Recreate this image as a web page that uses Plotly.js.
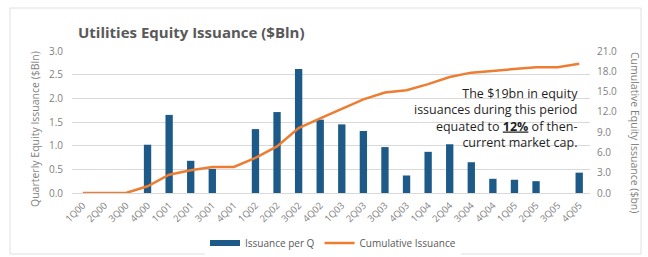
<!DOCTYPE html>
<html>
<head>
<meta charset="utf-8">
<script src="https://cdn.plot.ly/plotly-3.0.1.min.js"></script>
<style>html,body{margin:0;padding:0;background:#fff;}#chart{width:648px;height:257px;}</style>
</head>
<body>
<div id="chart"></div>
<script>
const quarters = ["1Q00","2Q00","3Q00","4Q00","1Q01","2Q01","3Q01","4Q01","1Q02","2Q02","3Q02","4Q02","1Q03","2Q03","3Q03","4Q03","1Q04","2Q04","3Q04","4Q04","1Q05","2Q05","3Q05","4Q05"];
const issuancePerQ = [0,0,0,1.02,1.65,0.68,0.51,0,1.35,1.71,2.62,1.55,1.45,1.31,0.97,0.37,0.87,1.03,0.65,0.30,0.28,0.25,0,0.43];
const cumulativeIssuance = [0,0,0,1.0,2.7,3.35,3.85,3.85,5.2,6.9,9.6,11.05,12.5,13.85,14.85,15.2,16.1,17.15,17.8,18.1,18.35,18.6,18.6,19.1];
const leftTicks = [0,0.5,1,1.5,2,2.5,3];
const rightTicks = [0,3,6,9,12,15,18,21];

const gray = "#7f7f7f";
const blue = "#1d5a87";
const orange = "#ed7d31";
const W = 648, H = 257, L = 72, R = 590, T = 51, B = 193;
const px = x => (x - L) / (R - L);
const py = y => (B - y) / (B - T);

const traces = [
  {type:"bar", name:"Issuance per Q", x:quarters, y:issuancePerQ, marker:{color:blue}, width:0.34, yaxis:"y", showlegend:false},
  {type:"scatter", mode:"lines", name:"Issuance per Q", x:[null], y:[null], line:{color:blue, width:6}, yaxis:"y", showlegend:true, hoverinfo:"skip"},
  {type:"scatter", mode:"lines", name:"Cumulative Issuance", x:quarters, y:cumulativeIssuance, line:{color:orange, width:2.5}, yaxis:"y2"}
];
const layout = {
  width:W, height:H,
  margin:{l:L, r:W-R, t:T, b:H-B, autoexpand:false},
  paper_bgcolor:"#fff", plot_bgcolor:"#fff",
  font:{family:"Open Sans, sans-serif", color:gray, size:9},
  showlegend:true,
  legend:{orientation:"h", x:px(333), xanchor:"center", y:py(243), yanchor:"middle", font:{size:10, color:"#595959"}, itemwidth:30, tracegroupgap:0},
  title:{text:"<b>Utilities Equity Issuance ($Bln)</b>", font:{size:15, color:"#595959", family:"Open Sans, sans-serif"}, x:78/W, xanchor:"left", y:1-33/H, yanchor:"middle"},
  xaxis:{type:"category", tickangle:-45, tickfont:{size:9.5, color:gray}, showgrid:false, ticks:"", showline:false, zeroline:false, automargin:false, ticklabelstandoff:4},
  yaxis:{range:[0,3], tickvals:leftTicks, ticktext:leftTicks.map(v=>v.toFixed(1)), gridcolor:"#d9d9d9", zeroline:true, zerolinecolor:"#d9d9d9", tickfont:{size:10, color:gray}, ticks:"", ticklabelstandoff:8, automargin:false},
  yaxis2:{range:[0,21], overlaying:"y", side:"right", tickvals:rightTicks, ticktext:rightTicks.map(v=>v.toFixed(1)), showgrid:false, zeroline:false, tickfont:{size:10, color:gray}, ticks:"", ticklabelstandoff:6, automargin:false},
  annotations:[
    {xref:"paper", yref:"paper", x:px(580), y:py(118), xanchor:"right", yanchor:"middle", align:"right", showarrow:false,
     text:"The $19bn in equity<br>issuances during this period<br>equated to <b><u>12%</u></b> of then-<br>current market cap.",
     font:{size:12.5, color:"#1f1f1f", family:"Open Sans, sans-serif"}},
    {xref:"paper", yref:"paper", x:px(35), y:py(129), textangle:-90, showarrow:false, xanchor:"center", yanchor:"middle",
     text:"Quarterly Equity Issuance ($Bln)", font:{size:10.5, color:gray}},
    {xref:"paper", yref:"paper", x:px(635), y:py(132), textangle:90, showarrow:false, xanchor:"center", yanchor:"middle",
     text:"Cumulative Equity Issuance ($bn)", font:{size:10.5, color:gray}}
  ],
  shapes:[{type:"rect", xref:"paper", yref:"paper", x0:px(10), x1:px(641), y0:py(254), y1:py(8), line:{color:"#e0e0e0", width:1}, layer:"below"}]
};
Plotly.newPlot("chart", traces, layout, {displayModeBar:false, staticPlot:true});
</script>
</body>
</html>
